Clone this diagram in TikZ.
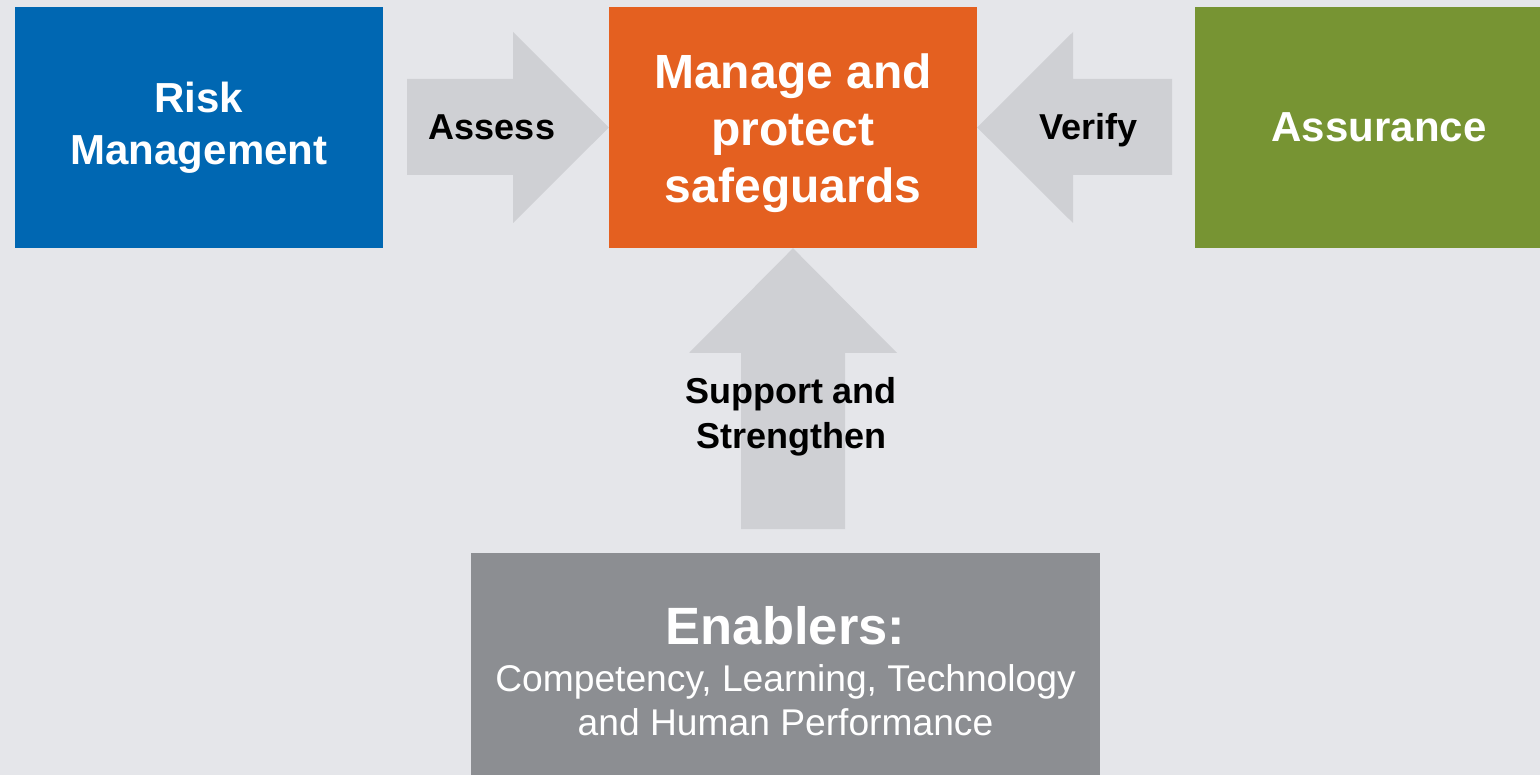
\documentclass[tikz,border=0pt]{standalone}
\usepackage{fontspec}
\setmainfont{Liberation Sans}

\definecolor{bggray}{HTML}{E5E6EA}
\definecolor{arrowgray}{HTML}{CFD0D4}
\definecolor{riskblue}{HTML}{0067B2}
\definecolor{manageorange}{HTML}{E46020}
\definecolor{assurancegreen}{HTML}{779433}
\definecolor{enablergray}{HTML}{8C8E92}

\tikzset{
    box/.style={rectangle, inner sep=0pt, minimum width=368pt, minimum height=241pt,
        text=white, align=center, font=\bfseries},
    arrowlabel/.style={inner sep=0pt, align=center, text=black, font=\bfseries\fontsize{36}{45}\selectfont}
}

\begin{document}
\begin{tikzpicture}[x=1pt, y=-1pt]

        % Hintergrund
        \fill[bggray] (0,0) rectangle (1540,775);
        \useasboundingbox (0,0) rectangle (1540,775);
        \clip (0,0) rectangle (1540,775);

        % Kaesten oben
        \begin{scope}
            \node[box, fill=riskblue, font=\bfseries\fontsize{42}{52}\selectfont] (risk) at (199,127.5) {Risk\\Management};
            \node[box, fill=manageorange] (manage) at (793,127.5) {};
            \node[text=white, align=center, inner sep=0pt, font=\bfseries\fontsize{48}{57}\selectfont] (managetext) at (793,133.5) {Manage and\\protect\\safeguards};
            \node[box, fill=assurancegreen, font=\bfseries\fontsize{42}{52}\selectfont] (assurance) at (1379,127.5) {Assurance};
        \end{scope}

        % Kasten unten
        \begin{scope}
            \node[rectangle, inner sep=0pt, fill=enablergray, minimum width=629pt, minimum height=240pt] (enablers) at (785.5,673) {};
            \node[anchor=base, text=white, inner sep=0pt, font=\bfseries\fontsize{52.5}{60}\selectfont] (enablerstitle) at (785.5,644) {Enablers:};
            \node[anchor=base, text=white, inner sep=0pt, font=\fontsize{37.2}{44}\selectfont] (enablersline) at (785.5,691) {Competency, Learning, Technology};
            \node[anchor=base, text=white, inner sep=0pt, font=\fontsize{37.2}{44}\selectfont] (enablerslast) at (785.5,735) {and Human Performance};
        \end{scope}

        % Pfeile
        \begin{scope}[color=arrowgray]
            % Assess
            \fill (407,79) -- (513,79) -- (513,32) -- (manage.west) -- (513,223) -- (513,175) -- (407,175) -- cycle;
            % Verify
            \fill (1172,79) -- (1073,79) -- (1073,32) -- (manage.east) -- (1073,223) -- (1073,175) -- (1172,175) -- cycle;
            % Support
            \fill (741,529) -- (741,353) -- (689,353) -- (manage.south) -- (897,353) -- (845,353) -- (845,529) -- cycle;
        \end{scope}

        % Pfeiltexte
        \node[arrowlabel] (assess) at (492,127) {Assess};
        \node[arrowlabel] (verify) at (1088.5,130) {Verify};
        \node[arrowlabel] (support) at (791,417) {Support and\\Strengthen};

    \end{tikzpicture}
\end{document}
